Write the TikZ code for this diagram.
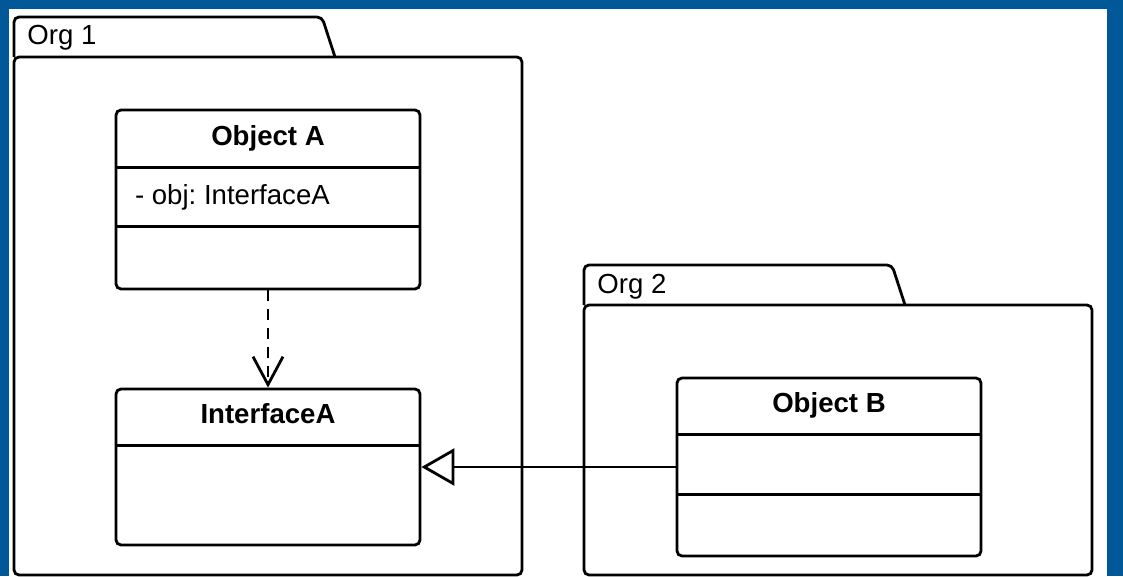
\documentclass[tikz,border=0pt]{standalone}
\usepackage{fontspec}
\setmainfont{Liberation Sans}
\usetikzlibrary{arrows.meta}
\definecolor{frameblue}{RGB}{0,88,152}
\frenchspacing

\begin{document}
\begin{tikzpicture}[x=1pt, y=-1pt, line width=2.8pt,
  classbox/.style={draw, rounded corners=5pt, minimum width=304pt, inner sep=0pt},
  title/.style={font=\fontsize{27.6}{32}\selectfont\bfseries, anchor=base, inner sep=0pt},
  txt/.style={font=\fontsize{27.6}{32}\selectfont, anchor=base west, inner sep=0pt}]
  \useasboundingbox (0,0) rectangle (1123,576);
  \fill[frameblue] (0,0) rectangle (1123,576);
  \fill[white] (9,9) rectangle (1107,576);

  % Org 1
  \draw[rounded corners=5pt] (14,57) -- (14,17) -- (322,17) -- (335,57);
  \draw[rounded corners=5pt] (14,57) rectangle (522,575);
  \node[txt] (org1) at (26,44) {Org 1};

  % Object A
  \node[classbox, minimum height=179pt] (objA) at (268,199.5) {};
  \node[title] (objAname) at ([yshift=-36.5pt]objA.north) {Object A};
  \draw ([yshift=-59pt]objA.north west) -- ([yshift=-59pt]objA.north east);
  \draw ([yshift=-118pt]objA.north west) -- ([yshift=-118pt]objA.north east);
  \node[txt] (objAattr) at ([xshift=19pt, yshift=-95.5pt]objA.north west) {- obj: InterfaceA};

  % InterfaceA
  \node[classbox, minimum height=156pt] (ifaceA) at (268,467) {};
  \node[title] (ifaceAname) at ([yshift=-35.5pt]ifaceA.north) {InterfaceA};
  \draw ([yshift=-58pt]ifaceA.north west) -- ([yshift=-58pt]ifaceA.north east);

  % Org 2
  \draw[rounded corners=5pt] (584,305) -- (584,265) -- (892,265) -- (905,305);
  \draw[rounded corners=5pt] (584,305) rectangle (1092,575);
  \node[txt] (org2) at (596,293) {Org 2};

  % Object B
  \node[classbox, minimum height=178pt] (objB) at (829,467) {};
  \node[title] (objBname) at ([yshift=-35.5pt]objB.north) {Object B};
  \draw ([yshift=-58pt]objB.north west) -- ([yshift=-58pt]objB.north east);
  \draw ([yshift=-118pt]objB.north west) -- ([yshift=-118pt]objB.north east);

  % dependency and realization
  \draw[dash pattern=on 11pt off 8pt, -{Straight Barb[length=28pt, width=30pt]}] (objA) -- (ifaceA);
  \draw[-{Triangle[open, length=33pt, width=37pt]}] (objB) -- (ifaceA);
\end{tikzpicture}
\end{document}
